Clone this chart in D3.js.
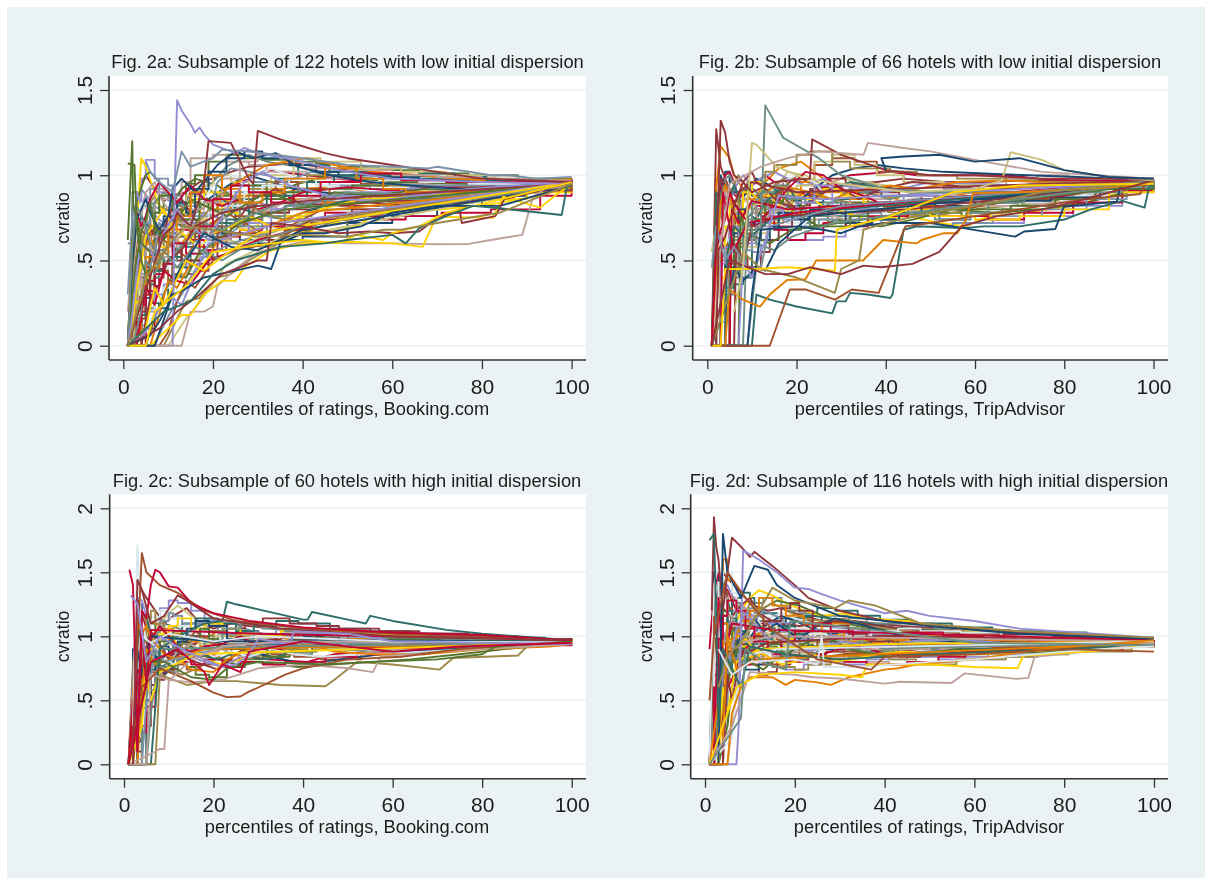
<!DOCTYPE html>
<html>
<head>
<meta charset="utf-8">
<title>cvratio by percentile of ratings</title>
<script src="https://cdn.jsdelivr.net/npm/d3@7"></script>
<style>
html, body { margin: 0; padding: 0; background: #fff; }
svg { display: block; filter: blur(0.45px); }
text { font-family: "Liberation Sans", Arial, sans-serif; fill: #1c1c1c; }
</style>
</head>
<body>
<svg id="chart" width="1205" height="878"></svg>
<script>
// stata s2color cycle
let palette = ["#1a476f", "#90353b", "#55752f", "#e37e00", "#6e8e84", "#c10534", "#938dd2", "#cac27e",
               "#a0522d", "#7b92a8", "#2d6d66", "#9c8847", "#bfa19c", "#ffd200", "#d9e6eb"]

let xTicks = [0, 20, 40, 60, 80, 100]
let yTicksLow = [0, 0.5, 1, 1.5]
let yTicksHigh = [0, 0.5, 1, 1.5, 2]

// percentiles the bundle of hotels is read at, hotels jump at different places
let knotSets = [
  [1,2,3,4,5,6,8,10,12,15,18,22,26,30,35,40,50,60,70,80,90,100],
  [1,2,3,4,5,7,9,11,14,17,20,24,28,33,38,44,53,62,72,83,92,100],
  [1,2,3,4,6,7,9,12,14,16,19,23,27,31,37,43,48,57,66,77,88,100],
  [1,2,3,5,6,8,10,11,13,16,21,25,29,34,39,46,55,64,75,85,94,100],
  [1,2,4,5,6,7,8,11,13,17,19,21,24,32,36,42,51,59,68,78,87,100],
  [1,2,3,4,5,6,7,9,13,15,20,23,28,32,41,47,56,67,74,81,95,100],
  [1,3,4,5,7,8,10,12,15,18,22,26,31,36,45,52,58,63,71,82,93,100]
]

let massA = [
  [0,.81,.78,.74,.72,.7,.68,.66,.64,.72,.7,.66,.62,.6,.62,.64,.72,.76,.82,.88,.92,.96],
  [0,.3,.82,.95,1.0,.92,.85,.88,.9,.96,.98,1.02,1.05,1.06,1.07,1.05,1.02,1.0,.99,.98,.97,.96],
  [0,0,.4,.62,.8,.78,.86,.82,.95,1.0,1.08,1.12,1.1,1.09,1.08,1.07,1.05,1.03,1.01,1.0,.98,.97],
  [0,0,0,.35,.55,.7,.64,.58,.66,.78,.86,.84,.9,.88,.92,.93,.9,.9,.92,.91,.94,.95],
  [.6,.9,.82,.8,.76,.84,.8,.74,.7,.6,.62,.6,.66,.7,.76,.8,.82,.84,.86,.88,.92,.95],
  [0,0,.25,.3,.42,.5,.62,.72,.8,.9,.85,.92,.98,1.03,1.0,.98,.96,.96,.95,.95,.96,.97],
  [0,.5,.98,1.09,.98,.9,.85,.8,.88,.84,.9,.8,.76,.82,.86,.88,.88,.9,.9,.92,.94,.96],
  [0,0,.2,.5,.62,.58,.5,.62,.55,.68,.74,.8,.84,.8,.78,.82,.85,.88,.9,.9,.93,.95],
  [0,0,0,.2,.3,.4,.48,.42,.5,.58,.62,.72,.78,.86,.92,.96,.95,.94,.93,.93,.94,.96],
  [.3,.75,.86,.92,.85,.82,.78,.86,.8,.74,.68,.64,.72,.76,.82,.84,.86,.84,.88,.9,.93,.94],
  [0,0,.15,.2,.25,.22,.38,.46,.58,.64,.72,.86,.94,.98,1.06,1.02,1.0,.98,.97,.96,.96,.97],
  [0,.2,.55,.7,.84,.88,.82,.78,.72,.7,.66,.62,.6,.58,.62,.7,.78,.8,.84,.84,.88,.93],
  [0,0,.35,.45,.7,.8,.92,.86,.96,1.1,1.12,1.08,1.06,1.02,.98,.98,.95,.94,.94,.95,.96,.98],
  [0,.7,1.1,1.05,.9,.82,.74,.68,.62,.72,.84,.76,.72,.68,.66,.7,.8,.78,.8,.83,.88,.94],
  [0,0,0,.15,.2,.3,.45,.55,.68,.76,.82,.9,.84,.94,.9,.88,.92,.93,.95,.94,.95,.96],
  [0,.45,.7,.76,.72,.66,.72,.8,.76,.82,.88,.95,1.0,.96,.92,.9,.88,.87,.86,.89,.92,.95],
  [0,0,.22,.4,.5,.45,.52,.5,.42,.48,.56,.7,.74,.78,.8,.84,.82,.85,.87,.92,.94,.95],
  [0,.62,.85,1.0,1.02,.96,.9,.84,.92,.98,.94,.86,.82,.9,.95,1.0,.97,.96,.95,.94,.95,.96],
  [0,0,.3,.6,.78,.72,.66,.72,.84,.78,.72,.8,.88,.92,.86,.84,.8,.82,.84,.86,.91,.94],
  [0,.15,.5,.55,.6,.76,.84,.9,.82,.88,.96,1.05,1.12,1.08,1.04,1.0,.98,.97,.98,.97,.96,.97],
  [0,0,0,.1,.35,.52,.6,.68,.62,.56,.64,.68,.7,.74,.78,.76,.74,.76,.78,.8,.88,.93],
  [0,.55,.9,.82,.88,.8,.74,.7,.76,.7,.78,.74,.8,.84,.8,.86,.9,.88,.9,.9,.92,.95],
  [0,0,.18,.38,.45,.6,.7,.78,.88,.94,1.0,.96,.92,1.0,1.1,1.08,1.04,1.02,1.0,.98,.97,.97],
  [0,.35,.6,.68,.62,.7,.62,.56,.52,.6,.7,.78,.72,.66,.7,.78,.84,.86,.88,.9,.92,.94],
  [0,0,.42,.72,.92,.98,.94,.88,.82,.76,.82,.9,.96,.9,.96,.94,.92,.93,.92,.92,.94,.96],
  [0,.1,.28,.33,.48,.55,.66,.74,.7,.8,.92,.88,.82,.76,.74,.8,.86,.9,.92,.93,.95,.96],
  [0,0,.12,.25,.34,.5,.56,.64,.74,.84,.78,.84,.92,.96,1.0,.96,.94,.92,.9,.91,.93,.95],
  [.2,.8,.76,.9,.96,.88,.8,.76,.72,.66,.74,.82,.78,.84,.88,.92,.96,.95,.97,.96,.96,.97],
  [0,0,.26,.36,.4,.46,.58,.7,.78,.86,.9,.78,.68,.72,.76,.72,.78,.82,.85,.86,.9,.94],
  [0,.4,.66,.84,.8,.74,.68,.6,.7,.82,.94,1.0,.98,1.04,.99,.94,.9,.9,.91,.93,.94,.96],
  [0,0,0,.28,.5,.66,.76,.84,.78,.92,1.02,1.1,1.14,1.1,1.06,1.02,1.0,.99,.97,.96,.96,.96],
  [0,.25,.46,.58,.68,.62,.74,.82,.86,.74,.66,.72,.86,.92,.84,.82,.84,.82,.86,.88,.91,.94],
  [0,0,.32,.44,.6,.78,.88,.8,.74,.86,.8,.88,.94,.86,.9,.92,.94,.96,.96,.95,.95,.97],
  [0,.6,.72,.64,.58,.64,.58,.66,.6,.66,.76,.92,1.0,1.06,1.1,1.06,1.02,1.0,.98,.97,.97,.98],
  [0,0,.1,.22,.4,.56,.5,.6,.66,.7,.8,.7,.76,.82,.88,.86,.88,.86,.88,.91,.93,.95],
  [0,.5,.78,.7,.76,.86,.96,.9,.84,.94,.86,.82,.86,.8,.84,.9,.93,.91,.93,.93,.95,.97],
  [0,0,0,.12,.2,.3,.36,.4,.48,.52,.6,.66,.72,.8,.84,.88,.9,.92,.92,.94,.95,.96],
  [0,.22,.4,.36,.34,.42,.5,.46,.4,.5,.58,.62,.6,.64,.7,.74,.76,.8,.84,.86,.9,.94],
  [0,0,.16,.3,.5,.44,.38,.52,.6,.66,.7,.76,.88,.96,.92,.86,.88,.9,.93,.95,.96,.97],
  [0,.38,.62,.5,.46,.56,.72,.64,.58,.62,.74,.96,1.04,1.0,.96,1.02,.98,.95,.94,.94,.95,.96],
  [0,0,.08,.18,.28,.36,.44,.52,.46,.54,.68,.74,.82,.88,.96,1.0,1.0,1.01,.99,.97,.96,.97],
  [0,.75,.66,.58,.52,.48,.6,.74,.68,.76,.9,.86,.78,.74,.72,.76,.8,.83,.85,.88,.91,.95],
  [0,0,.24,.42,.56,.64,.52,.58,.72,.8,.84,.98,1.08,1.12,1.1,1.04,1.03,1.0,.99,.98,.97,.97],
  [0,.12,.34,.48,.64,.72,.8,.7,.64,.58,.66,.7,.76,.7,.74,.8,.86,.87,.89,.9,.93,.95],
  [0,0,0,.06,.16,.26,.34,.3,.44,.6,.78,.82,.9,.94,.98,.94,.96,.97,.96,.95,.95,.96],
  [0,.48,.74,.86,.78,.68,.76,.92,.98,.9,1.06,1.14,1.1,1.13,1.05,1.0,.96,.94,.92,.93,.95,.96],
  [0,0,.2,.32,.38,.48,.64,.56,.5,.44,.52,.64,.66,.62,.68,.74,.8,.8,.84,.87,.91,.94],
  [0,.28,.52,.66,.74,.84,.7,.62,.78,.86,.8,.76,.84,.9,.82,.9,.88,.92,.91,.92,.94,.96],
  [0,0,.3,.52,.46,.54,.68,.76,.9,1.0,.92,.84,.9,.98,1.04,.98,.92,.9,.9,.9,.93,.95],
  [0,.58,.82,.76,.7,.6,.54,.48,.56,.64,.72,.68,.74,.78,.84,.82,.9,.89,.87,.9,.93,.96],
  [0,0,.14,.24,.32,.42,.48,.6,.54,.7,.86,.94,.9,.84,.88,.96,1.01,.97,.96,.96,.96,.97],
  [0,.18,.44,.6,.56,.5,.66,.8,.72,.68,.62,.8,.96,1.02,.94,.9,.86,.85,.88,.92,.94,.95]
]

let massB = [
  [0,.47,.95,1.02,.96,.9,.92,.88,.85,.88,.8,.84,.86,.82,.84,.8,.82,.84,.88,.92,.95,.97],
  [0,1.27,1.05,.98,.92,.86,.95,.9,.86,.92,1.0,.94,.92,.95,.96,.98,.96,.96,.97,.97,.97,.98],
  [0,0,.57,.57,.85,.8,.78,.86,.82,.76,.72,.7,.76,.84,.82,.78,.78,.76,.8,.86,.92,.96],
  [0,.93,1.17,1.1,1.0,.92,.85,.88,.96,1.04,1.08,1.0,.92,.9,.88,.84,.88,.92,.94,.95,.96,.97],
  [0,0,0,.3,.62,.68,.74,.7,.78,.84,.8,.72,.76,.78,.74,.76,.74,.78,.82,.88,.93,.96],
  [0,.5,.9,1.0,1.02,.96,.86,.92,1.0,.96,.9,.88,.96,1.0,1.02,1.0,1.0,1.0,.98,.97,.97,.98],
  [0,0,.32,.55,.52,.6,.55,.7,.76,.72,.62,.64,.74,.8,.76,.74,.72,.72,.76,.82,.9,.95],
  [.55,.72,.66,.6,.55,.5,.48,.46,.44,.9,1.02,1.0,.94,.98,.96,.94,.9,.92,.9,.91,.94,.97],
  [0,0,0,.22,.7,.66,.62,.78,.9,.98,.96,1.06,1.1,1.08,1.02,.96,.92,.92,.94,.96,.96,.97],
  [0,.4,.8,.88,.8,.74,.82,.86,.8,.74,.86,.78,.82,.76,.78,.82,.84,.86,.88,.9,.94,.96],
  [0,0,.3,.34,.36,.4,.66,.8,.74,.68,.76,.82,.86,.9,.88,.86,.86,.88,.86,.88,.93,.97],
  [0,.2,.96,.9,.94,1.0,.96,.86,.9,.98,.92,.86,.88,.84,.8,.78,.76,.8,.82,.85,.92,.96],
  [0,0,0,0,.5,.76,.7,.8,.86,.82,.78,.74,.8,.86,.84,.88,.94,.98,1.0,.98,.97,.98],
  [0,.6,.78,.72,.66,.84,.9,.82,.78,.9,.88,.82,.78,.74,.76,.72,.7,.76,.78,.82,.9,.95],
  [0,0,.44,.62,.74,.7,.64,.6,.68,.8,.72,.66,.72,.68,.76,.8,.8,.82,.84,.88,.92,.96],
  [0,.5,1.0,.92,.86,.8,.92,.98,.94,.88,.84,.92,1.0,1.04,1.06,1.04,1.02,1.01,1.0,.99,.98,.98],
  [0,0,.2,.48,.58,.52,.46,.55,.62,.7,.82,.92,.98,.94,.9,.88,.84,.84,.86,.9,.95,.97],
  [0,.8,.9,.84,.78,.72,.78,.84,.92,.86,.76,.7,.74,.72,.7,.74,.8,.78,.8,.84,.9,.95],
  [0,0,0,.42,.8,.9,.86,.78,.72,.76,.88,.96,.9,.86,.82,.82,.9,.94,.93,.94,.95,.97],
  [0,.66,.86,.98,1.0,.94,.88,.94,.86,.82,.74,.78,.84,.92,.86,.9,.86,.88,.9,.92,.94,.96],
  [0,0,.5,.66,.6,.7,.82,.76,.68,.62,.66,.72,.7,.76,.8,.76,.76,.74,.78,.84,.91,.96],
  [0,.3,.7,.76,.84,.92,1.0,.94,.98,1.02,.98,.94,.98,.94,.92,.9,.96,.95,.94,.94,.95,.97],
  [0,0,.36,.3,.44,.62,.58,.66,.74,.84,.94,1.08,1.12,1.06,1.0,.96,.94,.9,.92,.93,.95,.97],
  [0,.52,.62,.56,.7,.78,.72,.68,.8,.9,.82,.76,.8,.82,.78,.84,.82,.8,.84,.86,.92,.95],
  [0,0,.14,.38,.46,.56,.66,.86,.8,.76,.7,.74,.72,.78,.72,.7,.72,.76,.8,.86,.93,.97],
  [0,.9,.8,.86,.94,.88,.8,.74,.84,.94,.9,.8,.88,.96,.94,.92,.88,.86,.88,.9,.93,.96],
  [.46,.58,.5,.55,.62,.74,.9,.96,1.02,1.06,1.12,1.14,1.08,1.04,1.02,1.0,.98,.97,.96,.96,.96,.97],
  [0,.62,.92,.84,.76,.88,.8,.72,.8,.76,.82,.78,.74,.8,.86,.9,.86,.82,.82,.85,.92,.96],
  [0,0,.4,.7,.82,.76,.9,.96,.88,.8,.78,.86,.92,.88,.84,.8,.76,.74,.76,.8,.9,.95],
  [0,.35,.74,.66,.6,.68,.76,.84,.9,.96,1.0,.96,.84,.78,.82,.86,.9,.9,.92,.92,.95,.97],
  [0,0,.24,.5,.66,.8,.72,.62,.7,.78,.74,.8,.78,.72,.74,.78,.84,.86,.85,.87,.92,.96],
  [0,.7,.98,.9,.82,.96,1.02,.96,.92,.84,.8,.88,.94,.86,.92,.96,.94,.9,.9,.92,.95,.97],
  [0,0,0,.46,.64,.58,.68,.74,.84,.88,.86,.76,.7,.76,.8,.84,.8,.8,.82,.86,.92,.96],
  [0,.45,.84,.94,.88,.78,.7,.8,.88,.94,.92,.9,.86,.9,.94,.92,.96,.97,.96,.95,.96,.97],
  [0,0,.34,.4,.52,.72,.84,.9,.94,.86,.76,.84,.8,.84,.78,.74,.78,.84,.88,.9,.94,.97],
  [0,.56,.68,.74,.9,.84,.76,.7,.74,.82,.92,1.02,1.0,.92,.88,.82,.84,.88,.86,.88,.93,.96],
  [0,0,.48,.58,.7,.64,.6,.72,.8,.74,.84,.94,.82,.8,.84,.88,.92,.94,.95,.94,.95,.97]
]

let massC = [
  [0,.9,1.25,1.14,1.05,.98,.92,.88,.95,1.0,.98,1.02,1.04,1.0,1.02,1.0,.98,.97,.98,.98,.97,.96],
  [0,0,1.44,1.36,1.3,1.2,1.1,1.16,1.22,1.1,1.06,1.1,1.08,1.06,1.04,1.04,1.02,1.02,1.0,1.0,.98,.97],
  [0,.5,.9,1.15,1.1,1.0,.9,.8,.76,.7,.68,.76,.82,.84,.88,.92,.94,.96,.96,.97,.96,.96],
  [0,0,.3,.9,1.12,1.08,.98,.92,.88,.94,1.04,1.02,.96,.92,.98,1.0,1.0,.99,.98,.98,.97,.96],
  [0,0,0,.4,.85,.82,.76,.9,.98,1.05,1.0,.94,.9,.88,.86,.9,.92,.94,.95,.95,.95,.95],
  [0,.7,1.3,1.18,1.06,1.0,.9,.86,.82,.84,.86,.8,.84,.82,.8,.86,.88,.86,.9,.92,.94,.95],
  [0,0,.6,.7,.95,1.22,1.28,1.26,1.2,1.12,1.06,1.02,1.0,1.02,1.04,1.02,1.0,.98,.97,.97,.96,.96],
  [0,.3,.7,.4,.8,.95,1.1,1.18,1.24,1.16,1.08,1.1,1.14,1.08,1.06,1.05,1.03,1.01,1.0,.99,.97,.96],
  [0,0,.2,.6,.72,.68,.72,.78,.74,.78,.82,.9,.92,.86,.84,.82,.86,.9,.92,.93,.94,.95],
  [0,.4,1.1,1.0,.9,.82,.8,.9,1.02,1.08,1.14,1.12,1.06,1.02,1.0,.98,.96,.95,.96,.96,.96,.96],
  [0,0,0,.5,.78,.74,.84,.98,1.1,1.14,1.1,1.04,1.08,1.12,1.1,1.06,1.04,1.02,1.0,.99,.98,.97],
  [0,.8,1.2,1.1,.95,.84,.76,.72,.7,.76,.8,.84,.8,.86,.9,.94,.92,.9,.93,.94,.94,.95],
  [0,0,.46,.56,.66,.7,.88,1.02,1.0,.96,.9,.96,1.0,.96,.94,.92,.9,.9,.92,.93,.94,.95],
  [0,.2,.5,.8,1.0,1.06,1.02,.94,.86,.82,.78,.82,.88,.92,.96,.98,.96,.94,.94,.95,.95,.96],
  [0,0,.36,.7,.9,1.15,1.2,1.14,1.08,1.02,.98,1.0,.96,.98,.95,.94,.95,.96,.97,.97,.96,.96],
  [0,.6,1.05,.95,.86,.78,.7,.76,.84,.9,.96,.92,.88,.84,.8,.8,.84,.88,.9,.91,.93,.95],
  [0,0,.1,.3,.62,.66,.74,.86,.94,1.0,1.04,1.06,1.1,1.14,1.1,1.08,1.06,1.04,1.02,1.0,.98,.97],
  [0,.35,.85,1.0,.9,.86,.82,.84,.9,.86,.82,.78,.8,.78,.76,.78,.8,.82,.86,.9,.93,.95],
  [0,0,.55,.84,1.02,.96,1.06,1.02,.96,.92,.88,.9,.94,1.0,.98,.96,.98,.97,.96,.96,.95,.96],
  [0,.45,.96,.88,.8,.92,1.0,1.1,1.05,1.0,.94,.88,.84,.88,.92,.9,.88,.92,.94,.94,.95,.95],
  [0,0,.25,.45,.7,.8,.86,.8,.78,.82,.76,.8,.78,.8,.84,.86,.9,.92,.93,.92,.93,.95],
  [0,.65,1.3,1.28,1.16,1.02,.98,.96,.9,.84,.8,.76,.84,.9,.94,1.02,1.0,.98,.97,.96,.96,.96],
  [0,0,.4,.62,.76,.88,.94,1.0,.98,.94,1.0,.96,.98,.96,.92,.9,.94,.93,.92,.94,.94,.95],
  [0,.15,.4,.7,.84,.78,.84,.92,.96,1.04,.96,.9,.92,.94,1.0,1.02,.98,.96,.95,.95,.96,.96],
  [0,0,.66,.76,.96,1.12,1.18,1.16,1.1,1.1,1.02,.98,1.02,1.06,1.02,1.0,1.0,1.0,.98,.97,.96,.96],
  [0,.5,1.18,1.16,1.0,.86,.76,.8,.96,.88,.84,.82,.86,.82,.86,.98,.94,.92,.9,.92,.93,.94],
  [0,0,.5,.95,1.14,1.2,1.1,1.0,.94,.98,1.04,1.0,.94,.9,.94,.96,.96,.95,.95,.96,.96,.96],
  [0,.6,1.0,.86,.76,.7,.8,.88,.94,.86,.9,.84,.88,.94,.9,.86,.9,.9,.92,.93,.94,.95],
  [0,0,.3,.66,.8,.9,1.02,1.08,1.14,1.06,1.1,1.06,1.02,1.0,1.04,1.04,1.01,1.0,.99,.98,.97,.96],
  [0,.42,.8,1.08,.98,.92,.84,.78,.82,.9,.84,.88,.84,.9,.86,.84,.86,.87,.89,.91,.93,.95],
  [0,0,.18,.5,.74,.84,.9,.96,1.06,1.12,1.08,.98,.96,.94,.97,1.0,.97,.97,.97,.96,.96,.96],
  [0,.25,.62,.92,1.04,.94,.82,.9,.86,.8,.74,.86,.96,.98,.92,.94,.9,.94,.93,.95,.95,.96],
  [0,0,.7,.88,.82,.78,.96,1.04,.98,1.06,.98,.92,.9,.84,.88,.92,.95,.98,.98,.97,.96,.96],
  [0,.55,1.12,1.02,1.08,1.0,.94,.86,.8,.74,.72,.82,.9,.96,.94,.88,.86,.86,.88,.9,.92,.94],
  [0,0,.44,.58,.68,.76,.72,.82,.9,.96,1.06,1.1,1.06,1.04,1.0,1.0,.99,.99,.98,.98,.97,.96],
  [0,.32,.74,.68,.86,.98,1.08,1.0,.92,.88,.92,.94,1.0,.92,.9,.96,.92,.91,.91,.93,.94,.95]
]

let massD = [
  [0,1.5,1.3,1.2,1.1,1.02,.95,1.0,1.05,1.1,1.14,1.16,1.12,1.1,1.06,1.02,1.0,.98,.97,.96,.96,.97],
  [0,.8,1.4,1.5,1.45,1.38,1.3,1.24,1.2,1.22,1.18,1.14,1.1,1.12,1.1,1.08,1.06,1.04,1.02,1.0,.98,.98],
  [0,0,.6,1.1,1.28,1.22,1.1,.98,.92,.88,.85,.84,.82,.86,.88,.9,.9,.92,.92,.93,.94,.96],
  [0,1.2,1.05,.9,.8,.86,.92,.96,1.02,1.0,.96,1.0,1.02,.98,.96,.94,.94,.95,.95,.95,.96,.97],
  [0,0,.3,.8,.96,1.08,1.2,1.26,1.3,1.24,1.2,1.18,1.16,1.14,1.1,1.1,1.06,1.05,1.03,1.0,.98,.98],
  [.9,1.35,1.5,1.4,1.36,1.28,1.2,1.14,1.1,1.04,1.0,.98,.96,.94,.95,.96,.98,.97,.96,.96,.96,.97],
  [0,.5,1.0,1.2,1.1,.98,.86,.8,.76,.74,.78,.8,.78,.82,.84,.82,.84,.86,.88,.9,.93,.95],
  [0,0,0,.5,.8,.9,1.0,1.1,1.16,1.12,1.06,1.04,1.02,1.0,.98,.97,.96,.96,.95,.94,.94,.95],
  [0,1.1,1.25,1.16,1.02,.92,.84,.9,.96,1.06,1.12,1.08,1.06,1.04,1.02,1.0,.98,.96,.96,.96,.95,.96],
  [0,0,.7,.62,.84,1.0,1.12,1.06,1.0,.94,.9,.92,.9,.88,.9,.86,.88,.9,.92,.92,.94,.96],
  [0,.6,1.3,1.22,1.3,1.34,1.3,1.22,1.18,1.14,1.16,1.22,1.2,1.16,1.13,1.1,1.07,1.04,1.03,1.0,.98,.98],
  [0,0,.4,.7,.65,.72,.9,.98,1.08,1.04,1.0,.94,.92,.96,.94,.92,.92,.93,.94,.94,.95,.96],
  [0,1.0,1.15,1.0,.9,.8,.76,.84,.9,.86,.82,.8,.84,.8,.78,.8,.82,.84,.86,.9,.92,.94],
  [0,0,.2,.9,1.1,1.2,1.3,1.36,1.32,1.26,1.2,1.16,1.18,1.14,1.12,1.08,1.05,1.02,1.0,.99,.98,.98],
  [0,.9,1.4,1.32,1.2,1.12,1.0,.92,.86,.9,.94,.98,.96,.94,.92,.94,.96,.97,.97,.96,.96,.97],
  [0,0,.5,.55,.72,.86,.94,1.04,1.1,1.16,1.12,1.06,1.02,1.04,1.06,1.02,1.01,1.0,.98,.97,.97,.97],
  [0,.7,.9,1.02,.96,.9,.78,.7,.72,.78,.82,.86,.88,.9,.86,.84,.86,.88,.9,.91,.93,.95],
  [0,0,0,.3,.6,.84,1.05,1.14,1.22,1.28,1.24,1.18,1.12,1.08,1.06,1.06,1.04,1.02,1.0,.98,.97,.97],
  [0,1.3,1.6,1.44,1.3,1.24,1.16,1.08,1.04,1.0,1.02,1.06,1.1,1.06,1.02,1.0,.98,.98,.97,.97,.96,.96],
  [0,.4,.8,.95,1.0,1.06,1.04,.98,.94,.96,1.0,.96,.94,.92,.94,.96,.94,.94,.93,.93,.94,.96],
  [0,0,.6,.72,.86,.78,.84,.9,.86,.8,.84,.82,.8,.78,.8,.84,.88,.9,.9,.9,.92,.95],
  [0,1.05,1.3,1.36,1.4,1.32,1.24,1.18,1.12,1.08,1.1,1.12,1.08,1.06,1.04,1.02,1.0,1.0,.98,.98,.97,.97],
  [0,0,.34,.5,.7,.94,1.1,1.02,.96,.9,.86,.9,.94,.98,1.0,.98,.95,.94,.93,.94,.95,.96],
  [0,.85,1.1,1.22,1.14,1.04,.96,.88,.92,.98,.92,.88,.84,.86,.88,.88,.9,.92,.92,.92,.94,.96],
  [0,0,.46,.84,.98,1.14,1.22,1.18,1.12,1.06,1.04,1.0,.98,1.0,.98,.96,.97,.98,.97,.96,.96,.97],
  [0,1.25,1.45,1.3,1.12,.98,.9,.94,1.0,1.04,1.08,1.14,1.16,1.12,1.1,1.07,1.04,1.02,1.0,.98,.97,.97],
  [0,0,.28,.65,.78,.7,.8,.86,.8,.76,.74,.78,.82,.84,.82,.78,.82,.84,.86,.88,.92,.95],
  [0,.55,.95,1.08,1.2,1.26,1.16,1.06,1.0,.98,.94,.96,1.0,.96,.92,.9,.9,.92,.94,.95,.95,.96],
  [0,0,.75,.96,1.06,1.0,.92,.84,.9,.94,.98,1.02,1.04,1.0,.98,1.0,.98,.96,.95,.95,.96,.97],
  [0,1.4,1.55,1.35,1.22,1.1,1.02,1.08,1.14,1.18,1.14,1.1,1.06,1.04,1.02,1.04,1.02,1.0,.98,.97,.97,.97],
  [0,.3,.7,.76,.9,.82,.74,.78,.82,.84,.88,.92,.9,.94,.96,.92,.92,.9,.9,.92,.94,.95],
  [0,0,.55,1.0,1.16,1.24,1.3,1.24,1.16,1.1,1.08,1.1,1.12,1.1,1.08,1.05,1.03,1.02,1.01,.99,.98,.98],
  [0,.95,1.2,1.08,.94,.86,.82,.9,.94,.88,.9,.94,.92,.9,.88,.9,.92,.9,.9,.91,.93,.95],
  [0,0,.42,.6,.82,.96,1.02,.96,1.04,1.08,1.02,.98,.94,.92,.96,.98,.99,.98,.96,.96,.96,.97],
  [0,.75,1.0,1.12,1.26,1.18,1.08,1.12,1.06,1.02,.96,.92,.9,.88,.9,.94,.95,.94,.95,.96,.96,.96],
  [0,0,.16,.44,.6,.66,.86,.94,.88,.82,.86,.84,.86,.9,.92,.86,.86,.88,.9,.93,.94,.96],
  [0,.65,1.05,.96,1.1,1.02,.94,1.04,1.1,1.04,.98,1.04,1.0,1.02,1.0,1.0,1.0,.98,.96,.96,.96,.97],
  [0,0,.52,.78,.92,1.04,1.16,1.1,1.02,.96,.92,.94,.98,.94,.98,.94,.95,.95,.94,.94,.95,.96],
  [0,1.15,1.35,1.22,1.06,.94,.88,.82,.78,.82,.92,.96,.88,.86,.92,.98,.93,.91,.91,.92,.94,.96],
  [0,0,.38,.74,.88,.8,.96,1.12,1.2,1.14,1.06,1.0,1.06,1.02,1.0,1.02,1.0,.99,.98,.97,.97,.97],
  [0,.45,.85,1.1,1.2,1.14,1.04,.94,.98,1.08,1.02,.92,.96,1.0,.94,.92,.9,.89,.92,.94,.95,.96],
  [0,0,.64,.9,1.02,1.1,1.26,1.2,1.26,1.2,1.14,1.12,1.14,1.08,1.04,1.04,1.03,1.01,.99,.98,.97,.97],
  [0,.78,1.2,1.3,1.16,1.08,1.0,.96,.88,.84,.88,.9,.94,.96,.9,.9,.92,.93,.93,.94,.95,.96],
  [0,0,.24,.58,.74,.92,.98,.9,.84,.78,.8,.86,.8,.82,.86,.88,.86,.86,.88,.9,.92,.95],
  [0,1.0,1.42,1.5,1.34,1.2,1.12,1.04,1.08,1.02,1.06,1.02,.98,1.0,1.04,1.06,1.04,1.03,1.0,.98,.97,.97],
  [0,0,.48,.66,.84,1.0,1.08,1.14,1.04,1.1,.98,1.08,1.14,1.1,1.05,.98,.96,.95,.95,.96,.96,.96],
  [0,.35,.72,.88,.8,.74,.88,1.0,1.12,1.22,1.26,1.2,1.08,1.02,.96,.94,.94,.96,.96,.95,.96,.97],
  [0,0,.32,.46,.62,.78,.9,.82,.74,.8,.9,.96,.98,.9,.84,.86,.9,.88,.87,.89,.92,.94],
  [0,.88,1.1,.98,1.04,1.12,1.2,1.3,1.24,1.16,1.1,1.04,.96,.98,1.0,1.0,.98,.97,.97,.96,.96,.97],
  [0,0,.58,.8,.7,.84,.78,.88,.98,.92,.84,.82,.9,.92,.96,.9,.92,.92,.93,.93,.94,.96],
  [0,.6,.98,1.16,1.28,1.2,1.06,.96,.9,.96,1.04,1.1,1.04,.98,1.0,1.03,1.0,.98,.96,.96,.96,.97],
  [0,0,.2,.7,.9,1.06,1.18,1.06,.98,1.02,.94,.88,.92,.96,.92,.94,.97,.97,.95,.94,.95,.96]
]

// hotels that stand apart from the bundle, read as x, y, x, y, ...
let strayA = [
  [1,0, 4,0, 6,.28, 8,.36, 10,.5, 13,.56, 16,.7, 22,.78, 30,.82, 45,.86, 100,.95],
  [1,0, 5,0, 7,.16, 9,.3, 11,.42, 14,.4, 17,.55, 20,.6, 26,.72, 36,.8, 100,.95],
  [1,0, 6,0, 8,.18, 10,.38, 12,.34, 15,.48, 18,.46, 21,.62, 28,.66, 40,.78, 100,.94],
  [1,0, 7,0, 9,.12, 11,.22, 13,.3, 15,.4, 18,.52, 24,.6, 32,.66, 46,.76, 100,.95],
  [1,0, 3,0, 5,.35, 7,.24, 9,.44, 12,.38, 15,.36, 19,.5, 23,.54, 30,.62, 44,.72, 100,.94],
  [1,0, 8,0, 10,.08, 12,.26, 14,.38, 16,.34, 20,.5, 25,.56, 33,.6, 42,.74, 100,.96],
  [1,0, 9,0, 10,.05, 12,.16, 14,.26, 17,.28, 21,.4, 24,.42, 28,.5, 36,.62, 50,.76, 100,.95],
  [1,0, 4,.05, 6,.12, 8,.22, 11,.28, 13,.24, 16,.42, 19,.6, 24,.64, 35,.72, 100,.96],
  [1,0, 2,0, 4,.2, 5,.5, 7,.42, 9,.56, 12,.46, 16,.58, 22,.5, 27,.58, 40,.7, 100,.95],
  [1,0, 10,0, 12,.08, 14,.16, 16,.22, 20,.36, 23,.48, 28,.54, 34,.62, 100,.95],
  [1,0, 6,.06, 8,.14, 10,.24, 12,.42, 15,.54, 18,.66, 24,.58, 30,.56, 40,.68, 100,.94],
  [1,0, 5,.1, 7,.34, 9,.24, 11,.34, 14,.5, 18,.44, 22,.52, 30,.66, 100,.96],
  [1,0, 11,0, 11.5,.95, 12,1.44, 13,1.38, 14,1.34, 15,1.3, 16,1.25, 17,1.28, 18,1.24, 20,1.18, 25,1.13, 27,1.16, 30,1.13, 40,1.08, 50,1.02, 60,.98, 80,.96, 100,.95],
  [1,0, 9,.65, 11,.7, 12,.78, 15,.7, 18,.95, 19,1.2, 24,1.19, 28,.98, 29,.95, 30,1.26, 35,1.21, 40,1.17, 45,1.13, 50,1.1, 60,1.06, 70,1.02, 80,.98, 100,.96],
  [1,.62, 2,1.2, 2.2,.82, 3,.75, 4,.6, 6,.55],
  [1,1.07, 2.5,1.06, 3,.7, 4,.5, 5,.42],
  [1,0, 13,0, 15,.2, 18,.2, 20,.23, 21,.35, 25,.45, 30,.55, 40,.61, 50,.6, 60,.6, 70,.595, 77,.597, 82,.62, 89,.65, 91.4,.874, 94,.92, 100,.94],
  [1,0, 6,0, 10,.1, 13,.18, 15,.18, 18,.3, 22,.38, 25,.38, 27,.46, 33,.56, 40,.6, 50,.61, 60,.6, 66.8,.58, 69.8,.757, 82.5,.75, 84.7,.874, 93,.81, 96,.874, 100,.95],
  [1,0, 7,0, 11,.3, 13,.32, 18,.4, 25,.44, 30,.47, 33,.45, 35,.6, 40,.66, 45,.66, 53,.7, 60,.78, 70,.82, 84,.82, 100,.94],
  [1,0, 8,.1, 12,.2, 17,.3, 22,.42, 30,.5, 32,.5, 33,.72, 40,.7, 48,.66, 55,.67, 60,.66, 66,.67, 70,.75, 75,.8, 75.5,.72, 83,.76, 85,.86, 100,.96],
  [1,0, 5,0, 7,.2, 14,.35, 20,.55, 30,.59, 40,.62, 48,.6, 52,.65, 58,.62, 60,.66, 66,.7, 72,.78, 100,.96],
  [1,0, 9,.2, 15,.26, 20,.42, 25,.5, 35,.58, 45,.6, 50,.62, 60,.65, 63,.6, 66,.69, 72,.76, 78,.82, 84,.806, 97.8,.767, 99,.94, 100,.94],
  [1,0, 5,.4, 11,.62, 14,.7, 20,.68, 30,.64, 40,.65, 50,.64, 58,.68, 62,.68, 70,.72, 84,.78, 100,.95],
  [5,1.08, 6,1.02, 8,.96, 11,.9, 13,1.14, 15,1.05, 20,1.1, 22,1.15, 28,1.14, 40,1.1, 50,1.06, 60,1.05, 68,1.04, 70,1.05, 82,1.0, 86,1.0, 92,.98, 100,.99]
]
let strayAColors = [1, 2, 3, 9, 5, 8, 11, 6, 4, 7, 0, 13, 6, 1, 2, 2, 12, 13, 0, 1, 13, 10, 11, 9]

let strayB = [
  [1,0, 5,0, 5.5,.8, 7,.72, 10,.85, 18,.8, 40,.84, 100,.96],
  [1,0, 4,0, 4.5,.55, 6,.7, 9,.62, 14,.74, 30,.8, 100,.96],
  [1,0, 7,0, 7.5,.76, 9,.66, 14,.6, 19,.68, 40,.76, 100,.95],
  [1,0, 6,0, 6.5,.6, 8,.48, 10,.7, 16,.76, 45,.8, 100,.96],
  [1,0, 3,0, 3.5,.9, 6,.56, 9,.72, 20,.78, 50,.86, 100,.97],
  [1,0, 8,0, 9,.74, 11,.6, 15,.56, 19,.64, 28,.72, 100,.96],
  [1,0, 5,.3, 6,.46, 8,.38, 11,.46, 13,.44, 16,.6, 23,.76, 100,.96],
  [1,0, 2,0, 2.5,.56, 4,.64, 7,.9, 10,.96, 20,.9, 100,.97],
  [1,.46, 2,.7, 4,.5, 6,.58, 9,.45, 12,.46, 14,.7, 30,.82, 100,.96],
  [1,0, 7,0, 8,.5, 10,.4, 13,.62, 16,.88, 26,.86, 100,.96],
  [1,0, 9,0, 12,.7, 13,1.41, 17,1.22, 25,1.1, 30,1.0, 40,.92, 50,.9, 60,.9, 75,.9, 100,.97],
  [1,0, 10,0, 11,.3, 14,.27, 20,.23, 28,.19, 29,.26, 31,.26, 32,.31, 36,.3, 41,.28, 41.5,.3, 44,.68, 47,.7, 57,.69, 62,.7, 70,.7, 80,.74, 86,.8, 93,.85, 98,.81, 99,.93, 100,.94],
  [1,0, 9,0, 10,.3, 12,.68, 20,.7, 26,.68, 30,.66, 34,.7, 40,.72, 50,.72, 57.4,.69, 69,.64, 71,.67, 78,.685, 79.9,.815, 91.8,.845, 92.5,.93, 100,.97],
  [1,0, 4,0, 5,.33, 8,.27, 11.8,.229, 14,.3, 17.9,.385, 22,.39, 24.4,.5, 30,.5, 34.9,.5, 39.4,.62, 46.9,.6, 48,.62, 53,.66, 56,.66, 58,.74, 59.6,.895, 70,.9, 85,.92, 100,.95],
  [1,0, 14,0, 18.5,.33, 22,.33, 28.6,.27, 32.4,.33, 38.4,.31, 44.4,.7, 50,.72, 60,.76, 75,.82, 85,.86, 93,.88, 97,.89, 98,.94, 100,.96],
  [1,0, 8,.55, 12,.45, 20,.4, 28.6,.31, 30,.45, 34,.5, 35,.68, 40,.72, 50,.78, 60,.82, 75,.9, 100,.96],
  [1,0, 3,0, 4,.45, 11,.45, 18,.46, 24,.45, 28.6,.44, 29,.68, 35,.72, 40,.75, 55,.9, 70,.94, 100,.95],
  [1,0, 5,.5, 13,.42, 18,.42, 23,.46, 30,.42, 35,.47, 39,.46, 46,.48, 52,.55, 57,.7, 65,.76, 75,.8, 82,.84, 100,.97],
  [6,.2, 8,.45, 10,1.19, 11,1.18, 15.5,1.05, 22,.98, 30,.95, 45,.9, 60,.92, 66,.97, 68,1.135, 75,1.09, 80,1.03, 90,.99, 100,.97],
  [2,.5, 3,1.32, 4,1.25, 5,1.08, 6,1.0, 8,.96, 10,.9, 15,.96, 23,.98, 23.5,1.21, 30,1.12, 40,1.03, 50,1.0, 60,1.0, 75,.98, 100,.98],
  [3,.6, 5,.95, 12,1.05, 18,1.1, 25,1.14, 35,1.12, 36,1.19, 44,1.16, 50,1.14, 62,1.08, 75,1.02, 100,.98],
  [40,1.03, 39,1.1, 44,1.11, 52,1.12, 60,1.08, 70,1.1, 80,1.03, 90,.99, 100,.98]
]
let strayBColors = [5, 10, 2, 1, 5, 4, 0, 1, 9, 6, 4, 10, 0, 3, 8, 11, 13, 1, 7, 1, 12, 0]

let strayC = [
  [1,0, 2,0, 3,.9, 4,.7, 6,1.0, 20,.96, 100,.96],
  [1,0, 3,0, 4,.6, 5,.9, 7,.78, 18,.9, 100,.95],
  [1,0, 4,0, 5,.5, 7,.9, 9,.8, 25,.94, 100,.96],
  [1,0, 5,0, 6,.4, 7,.66, 8,.9, 30,.92, 100,.95],
  [1,0, 4,.3, 5,.7, 6,.5, 8,.72, 16,.86, 100,.95],
  [1,0, 2,.5, 3,.1, 4,1.1, 5,.6, 6,1.05, 30,1.02, 100,.97],
  [1,0, 6,0, 8,.9, 12,1.0, 18,1.1, 22,1.12, 23,1.27, 25,1.25, 30,1.21, 40,1.13, 41,1.13, 42,1.19, 50,1.13, 54,1.1, 55,1.16, 60,1.12, 72,1.05, 80,1.02, 100,.97],
  [1,0, 7,0, 8,.7, 14,.62, 20,.65, 25,.65, 35,.62, 45,.61, 47,.66, 52,.8, 60,.78, 70.5,.74, 73.5,.83, 88,.85, 90,.92, 100,.95],
  [1,0, 5,0, 6,.7, 10,.66, 15,.64, 22,.66, 30,.75, 40,.78, 50,.75, 55.6,.72, 57.3,.84, 70,.88, 100,.94],
  [1,0, 4,.6, 8,.75, 15,.65, 20,.56, 23,.525, 26,.53, 28,.57, 30,.6, 33,.65, 36,.7, 40,.75, 50,.82, 62,.84, 75,.9, 100,.96],
  [1,0, 7,.1, 8,.12, 9,.12, 10,.65, 15,.82, 22,.92, 35,.96, 100,.95],
  [2,.3, 3,1.71, 4,1.0, 6,.95, 10,1.02, 20,.96, 30,1.0, 60,.96, 100,.95],
  [2,.2, 4,1.65, 5,1.5, 8,1.4, 12,1.34, 18,1.2, 25,1.12, 40,1.06, 60,1.02, 100,.97],
  [1.2,1.52, 2,1.4, 3,.2, 4,1.2, 5,1.14, 6,1.4, 7,1.52, 8,1.5, 10,1.39, 12,1.38, 15,1.26, 20,1.18, 28,1.12, 40,1.07, 60,1.03, 80,1.01, 100,.97],
  [1,0, 6,.8, 9,.8, 15,.68, 20,.66, 23,.75, 30,.8, 45,.78, 56,.8, 70,.82, 80,.86, 83,.92, 100,.96],
  [2,0, 3,1.44, 4,1.36, 6,1.1, 9,1.16, 12,1.32, 14,1.28, 20,1.14, 35,1.06, 60,1.0, 100,.97],
  [1.5,1.32, 3,1.25, 5,.8, 8,1.0, 14,.88, 22,.76, 25,.78, 28,.86, 30,.98, 37,.94, 38,1.04, 50,1.02, 60,.96, 100,.94],
  [1,0, 6,.8, 12,.9, 18,.72, 19,.62, 22,.78, 26,.72, 28,.88, 40,.96, 60,.88, 75,.92, 100,.95]
]
let strayCColors = [0, 3, 9, 4, 13, 5, 10, 11, 12, 8, 12, 14, 8, 5, 2, 1, 6, 5]

let strayD = [
  [1,0, 3,0, 4,.6, 5,.4, 7,.8, 12,.9, 40,.94, 100,.96],
  [1,0, 4,0, 5,.7, 6,.5, 8,.85, 14,.95, 40,1.0, 100,.97],
  [1,0, 2,0, 3,1.3, 4,.8, 6,1.1, 15,1.05, 100,.97],
  [1,0, 5,0, 6,.3, 7,.55, 8,.95, 15,1.0, 100,.96],
  [1,0, 6,.2, 7,.6, 8,.45, 9,.85, 16,.9, 100,.96],
  [1,0, 3,.5, 4,.2, 5,1.0, 7,.75, 12,.82, 100,.95],
  [1.5,1.2, 2,1.93, 2.5,1.7, 3,1.6, 4,1.2, 5,1.5, 6,1.77, 8,1.7, 10,1.62, 11,1.66, 15,1.55, 20,1.4, 23,1.3, 30,1.2, 40,1.12, 60,1.06, 80,1.01, 100,.99],
  [1,0, 7,0, 7.5,.3, 8,1.0, 8.5,1.67, 12,1.6, 16,1.5, 20,1.38, 23,1.37, 26,1.33, 30,1.28, 40,1.18, 45,1.2, 50,1.16, 60,1.12, 70,1.06, 100,.99],
  [1,0, 3,0, 4,1.8, 5,1.5, 8,1.3, 11,1.55, 14,1.52, 16,1.4, 20,1.3, 30,1.16, 50,1.08, 70,1.02, 100,.98],
  [1,1.75, 2,1.8, 2.5,1.2, 3,.3, 4,.9, 8,.6, 10,.92, 18,.86, 30,.82, 50,.86, 100,.93],
  [1,0, 5,0, 6,.4, 8,.6, 10,.68, 15,.68, 18,.62, 20,.66, 25,.64, 28,.62, 32,.68, 40,.74, 43,.75, 47,.78, 60,.82, 75,.9, 100,.97],
  [1,0, 6,.3, 10,.72, 20,.7, 24,.68, 30,.67, 40,.63, 43.4,.645, 54.9,.635, 57.8,.71, 69.3,.667, 72,.675, 73.4,.84, 85,.88, 100,.95],
  [1,0, 7,.6, 12,.7, 20,.72, 30,.7, 35,.68, 36,.78, 50,.78, 60,.76, 69.6,.75, 70.9,.85, 85,.88, 100,.93],
  [1,0, 8,.36, 9,.9, 14,.78, 18,.74, 19,1.12, 24,1.1, 40,1.04, 60,.95, 100,.93],
  [3,.6, 5,.85, 8,.95, 15,1.38, 20,1.28, 29,1.22, 32,1.28, 38,1.24, 48,1.1, 70,1.04, 100,.99],
  [3,.9, 6,.7, 10,.8, 20,.82, 25,.78, 26,1.0, 26.5,.76, 35,.76, 50,.8, 60,.82, 80,.88, 88,.9, 100,.92],
  [1,.5, 2,1.0, 5,1.5, 9,1.3, 15,1.05, 25,.82, 37,.74, 40,.84, 60,.86, 80,.9, 100,.88]
]
let strayDColors = [13, 1, 5, 12, 14, 3, 1, 6, 0, 10, 3, 12, 13, 4, 11, 14, 8]

// panel layout, pixel positions
let panels = [
  {title: "Fig. 2a: Subsample of 122 hotels with low initial dispersion", xlab: "percentiles of ratings, Booking.com",
   mass: massA, stray: strayA, strayColors: strayAColors, yTicks: yTicksLow, left: 109, right: 586, top: 76, bottom: 360, x0: 123.3, x100: 571.6, y0: 345.7, yTop: 90, titleX: 347.5, titleY: 68, tickY: 393.8, xlabX: 347, xlabY: 415, ytX: 92, ylX: 69},
  {title: "Fig. 2b: Subsample of 66 hotels with low initial dispersion", xlab: "percentiles of ratings, TripAdvisor",
   mass: massB, stray: strayB, strayColors: strayBColors, yTicks: yTicksLow, left: 692.7, right: 1168, top: 76, bottom: 360, x0: 707.3, x100: 1153.5, y0: 345.7, yTop: 90, titleX: 930, titleY: 68, tickY: 393.8, xlabX: 930, xlabY: 415, ytX: 675, ylX: 652},
  {title: "Fig. 2c: Subsample of 60 hotels with high initial dispersion", xlab: "percentiles of ratings, Booking.com",
   mass: massC, stray: strayC, strayColors: strayCColors, yTicks: yTicksHigh, left: 109.7, right: 586, top: 494.3, bottom: 778.7, x0: 124, x100: 571.7, y0: 764.3, yTop: 508.3, titleX: 347, titleY: 487, tickY: 811.8, xlabX: 347, xlabY: 833, ytX: 92, ylX: 69},
  {title: "Fig. 2d: Subsample of 116 hotels with high initial dispersion", xlab: "percentiles of ratings, TripAdvisor",
   mass: massD, stray: strayD, strayColors: strayDColors, yTicks: yTicksHigh, left: 690.7, right: 1168, top: 494.3, bottom: 778.7, x0: 705, x100: 1154, y0: 764.3, yTop: 508.3, titleX: 929, titleY: 487, tickY: 811.8, xlabX: 929, xlabY: 833, ytX: 674, ylX: 652}
]

let svg = d3.select("#chart")

svg.append("rect")
    .attr("x", 7).attr("y", 7)
    .attr("width", 1198).attr("height", 871)
    .attr("fill", "#eaf2f3")

function fmtY(v){
    return v == 0.5 ? ".5" : v == 1.5 ? "1.5" : String(v)
}

function drawPanel(p, i){
    let g = svg.append("g").attr("class", "panel")

    g.append("rect")
        .attr("x", p.left).attr("y", p.top)
        .attr("width", p.right - p.left).attr("height", p.bottom - p.top)
        .attr("fill", "#fff")

    let x = d3.scaleLinear().domain([0, 100]).range([p.x0, p.x100])
    let y = d3.scaleLinear().domain([0, d3.max(p.yTicks)]).range([p.y0, p.yTop])

    // gridlines
    g.append("g").selectAll("line").data(p.yTicks).enter().append("line")
        .attr("x1", p.left).attr("x2", p.right)
        .attr("y1", d => y(d)).attr("y2", d => y(d))
        .attr("stroke", "#eaf2f3").attr("stroke-width", 1.5)

    let stepLine = d3.line().x(d => x(d[0])).y(d => y(d[1])).curve(d3.curveStepAfter)
    let straight = d3.line().x(d => x(d[0])).y(d => y(d[1]))

    // half stepped, half sloped, the hotels move both ways
    g.append("g").selectAll("path").data(p.mass).enter().append("path")
        .attr("d", (d, k) => {
            let set = knotSets[k % knotSets.length]
            return (k % 2 == 1 ? straight : stepLine)(d.map((v, n) => [set[n], v]))
        })
        .attr("fill", "none")
        .attr("stroke", (d, k) => palette[k % palette.length])
        .attr("stroke-width", 1.9)
        .attr("stroke-linejoin", "round")

    g.append("g").selectAll("path").data(p.stray).enter().append("path")
        .attr("d", d => straight(d3.range(0, d.length, 2).map(n => [d[n], d[n + 1]])))
        .attr("fill", "none")
        .attr("stroke", (d, k) => palette[p.strayColors[k]])
        .attr("stroke-width", 1.9)
        .attr("stroke-linejoin", "round")

    // axes, hand tuned to the stata look
    let xAxis = g.append("g")
        .attr("transform", "translate(0," + p.bottom + ")")
        .call(d3.axisBottom(x).tickValues(xTicks).tickSize(9).tickSizeOuter(0).tickFormat(d3.format("d")))
    xAxis.select(".domain").attr("d", "M" + p.left + ",0H" + p.right).attr("stroke", "#333").attr("stroke-width", 1.6)
    xAxis.selectAll(".tick line").attr("stroke", "#333").attr("stroke-width", 1.3)
    xAxis.selectAll(".tick text")
        .attr("y", p.tickY - p.bottom).attr("dy", 0)
        .style("font-size", "21px")
        .style("font-family", '"Liberation Sans", Arial, sans-serif')

    let yAxis = g.append("g")
        .attr("transform", "translate(" + p.left + ",0)")
        .call(d3.axisLeft(y).tickValues(p.yTicks).tickSize(9).tickSizeOuter(0).tickFormat(fmtY))
    yAxis.select(".domain").attr("d", "M0," + p.top + "V" + p.bottom).attr("stroke", "#333").attr("stroke-width", 1.6)
    yAxis.selectAll(".tick line").attr("stroke", "#333").attr("stroke-width", 1.3)
    yAxis.selectAll(".tick text")
        .attr("x", 0).attr("y", 0).attr("dy", 0)
        .attr("text-anchor", "middle")
        .attr("transform", "translate(" + (p.ytX - p.left) + ",0) rotate(-90)")
        .style("font-size", "21px")
        .style("font-family", '"Liberation Sans", Arial, sans-serif')

    g.append("text")
        .attr("x", p.titleX).attr("y", p.titleY)
        .attr("text-anchor", "middle")
        .style("font-size", "18.3px")
        .text(p.title)

    g.append("text")
        .attr("x", p.xlabX).attr("y", p.xlabY)
        .attr("text-anchor", "middle")
        .style("font-size", "18.3px")
        .text(p.xlab)

    g.append("text")
        .attr("transform", "translate(" + p.ylX + "," + ((p.top + p.bottom) / 2) + ") rotate(-90)")
        .attr("text-anchor", "middle")
        .style("font-size", "17.5px")
        .text("cvratio")
}

panels.forEach(drawPanel)
</script>
</body>
</html>
